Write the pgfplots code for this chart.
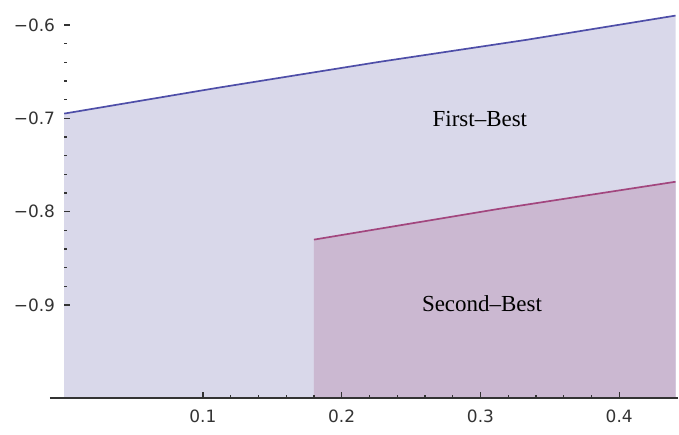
\documentclass[border=0pt]{standalone}
\usepackage{fontspec}
\setmainfont{Liberation Serif}
\newfontfamily\tickfont{DejaVu Sans}
\usepackage{pgfplots}
\pgfplotsset{compat=1.18}

\definecolor{fbfill}{HTML}{D9D8EA}
\definecolor{fbline}{HTML}{4E4EA8}
\definecolor{sbfill}{HTML}{CBB8D1}
\definecolor{sbline}{HTML}{A2467E}
\definecolor{axgray}{HTML}{333333}

\begin{document}
\begin{tikzpicture}
  \begin{axis}[
    scale only axis,
    width=612.4bp,
    height=399bp,
    xmin=0, xmax=0.4406,
    ymin=-1.0, ymax=-0.5733,
    axis on top,
    axis line style={draw=none},
    clip=false,
    xtick pos=bottom,
    ytick pos=left,
    xtick={0.1,0.2,0.3,0.4},
    xticklabels={0.1,0.2,0.3,0.4},
    ytick={-0.9,-0.8,-0.7,-0.6},
    yticklabels={−0.9,−0.8,−0.7,−0.6},
    minor x tick num=4,
    minor y tick num=4,
    tick align=inside,
    major tick length=6bp,
    minor tick length=3bp,
    every tick/.style={axgray, line width=1.3bp},
    ticklabel style={font=\tickfont\fontsize{17bp}{20bp}\selectfont, text=axgray, inner sep=0pt},
    yticklabel style={xshift=-9bp},
    xticklabel style={yshift=-11.7bp},
    ]

    % First-Best region
    \addplot[fill=fbfill, draw=none] coordinates {
      (0,-1.0) (0,-0.695) (0.11,-0.6675) (0.227,-0.6396) (0.333,-0.616) (0.4406,-0.590) (0.4406,-1.0)
    } -- cycle;

    % Second-Best region
    \addplot[fill=sbfill, draw=none] coordinates {
      (0.18,-1.0) (0.18,-0.830) (0.3135,-0.797) (0.4406,-0.768) (0.4406,-1.0)
    } -- cycle;

    % boundaries
    \addplot[fbline, line width=1.7bp] coordinates {
      (0,-0.695) (0.11,-0.6675) (0.227,-0.6396) (0.333,-0.616) (0.4406,-0.590)
    };
    \addplot[sbline, line width=1.7bp] coordinates {
      (0.18,-0.830) (0.3135,-0.797) (0.4406,-0.768)
    };

    \draw[axgray, line width=2.2bp] (axis cs:-0.0103,-1.0) -- (axis cs:0.4423,-1.0);

    \node[anchor=base, font=\fontsize{23bp}{26bp}\selectfont] at (axis cs:0.2996,-0.7088) {First–Best};
    \node[anchor=base, font=\fontsize{23bp}{26bp}\selectfont] at (axis cs:0.3011,-0.9066) {Second–Best};
  \end{axis}
  \path (current axis.south west) ++(-64.3bp,-36bp);
  \path (current axis.north east) ++(2.3bp,0bp);
\end{tikzpicture}
\end{document}
